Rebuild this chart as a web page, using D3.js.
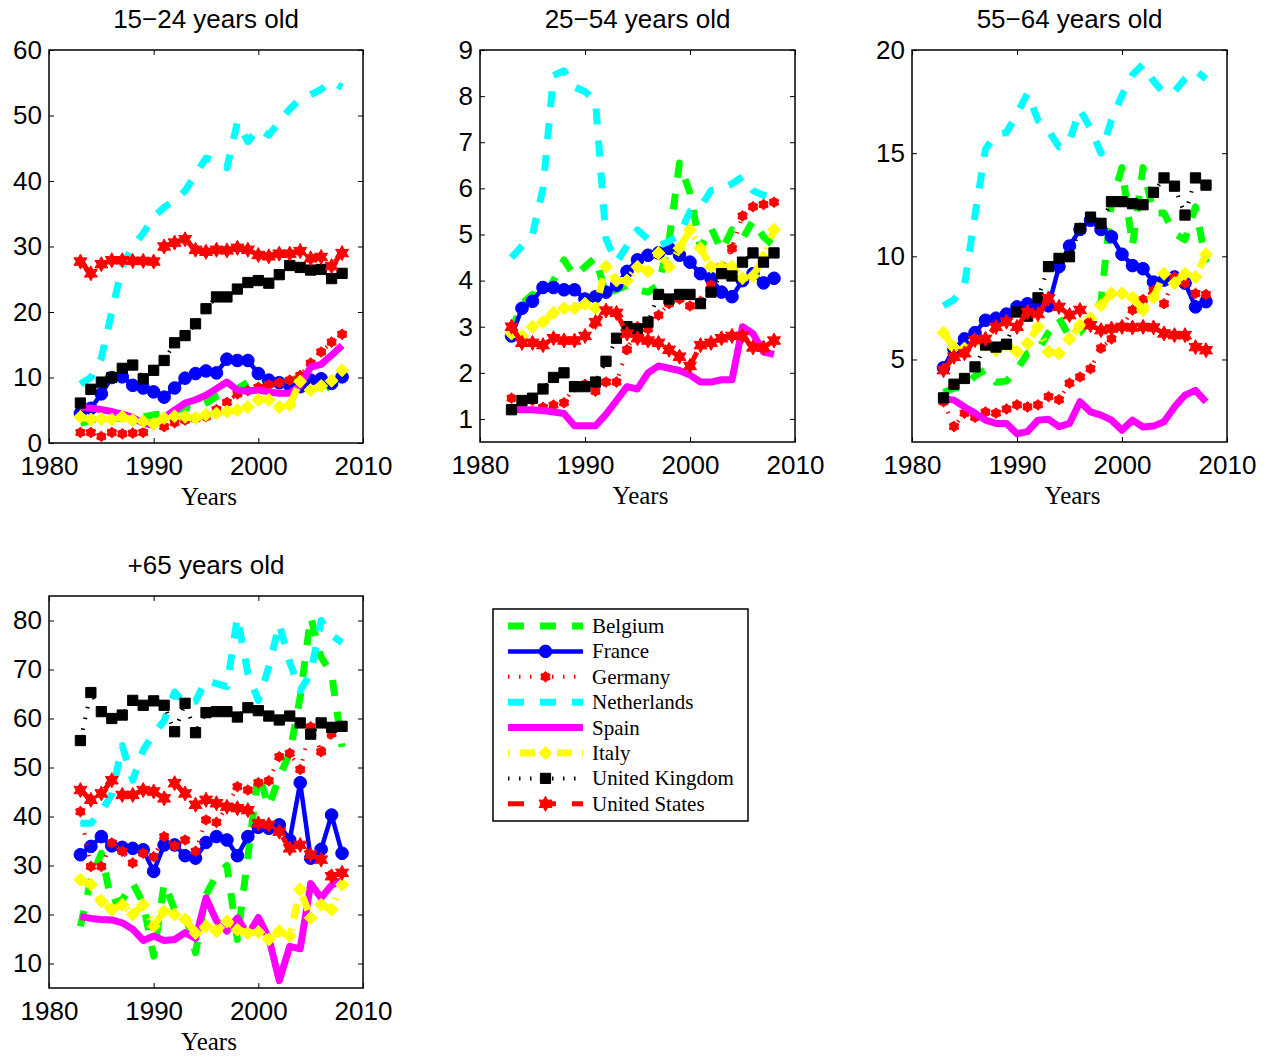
<!DOCTYPE html>
<html>
<head>
<meta charset="utf-8">
<script src="https://cdn.jsdelivr.net/npm/d3@7"></script>
<style>
  body { margin: 0; background: #fff; }
  svg { display: block; }
  .tick text { font-family: "Liberation Sans", Arial, sans-serif; font-size: 26px; fill: #000; }
  .tick line { stroke: #000; stroke-width: 1; }
</style>
</head>
<body>
<svg id="chart" width="1274" height="1059"></svg>
<script>
var years = d3.range(1983, 2009);
var countries = ['Belgium', 'France', 'Germany', 'Netherlands', 'Spain', 'Italy', 'United Kingdom', 'United States'];
var titles = ['15\u221224 years old', '25\u221254 years old', '55\u221264 years old', '+65 years old'];
var xTicks = [1980, 1990, 2000, 2010];

// one row per country, same order as countries
var age15to24 = [
  [3.0,3.5,3.7,3.7,3.8,3.8,4.0,4.3,4.5,4.8,5.5,5.2,6.1,7.1,7.6,8.3,9.3,8.8,9.5,9.6,9.4,10.1,10.8,10.6,8.0,8.6],
  [4.5,5.3,7.5,10.0,10.1,8.8,8.4,7.8,7.0,8.4,9.9,10.6,11.0,10.7,12.8,12.6,12.6,10.6,9.6,9.2,8.8,8.6,9.6,9.8,9.1,10.1],
  [1.6,1.6,1.0,1.6,1.4,1.5,1.6,3.0,2.5,3.1,3.5,3.7,4.0,5.1,6.2,7.5,8.0,8.5,8.9,9.2,9.6,10.3,12.2,13.9,15.4,16.6],
  [9.0,10.0,13.0,20.0,27.0,30.0,32.0,34.5,36.0,37.0,38.5,41.0,43.5,43.0,42.0,49.0,46.0,48.0,47.0,49.0,51.0,52.5,53.2,54.0,55.2,54.3],
  [5.5,5.3,5.1,4.8,4.4,3.9,3.0,2.7,3.9,5.0,6.1,6.6,7.3,8.3,9.3,8.1,7.9,8.1,7.8,7.6,7.6,8.8,11.6,12.0,13.4,14.9],
  [4.0,3.6,3.7,3.6,4.0,3.5,3.3,2.9,3.8,4.1,4.0,3.8,4.3,4.5,4.8,5.0,5.5,6.6,6.6,5.5,5.8,9.4,8.1,8.7,9.5,11.1],
  [6.1,8.2,9.3,10.0,11.4,11.9,9.8,11.1,12.6,15.3,16.4,18.2,20.5,22.3,22.3,23.5,24.5,24.8,24.4,25.7,27.1,26.8,26.4,26.5,25.1,25.9],
  [27.7,25.9,27.3,27.9,27.9,27.8,27.8,27.7,30.0,30.6,31.1,29.5,29.2,29.5,29.4,29.8,29.5,28.7,28.5,28.9,28.9,29.3,28.2,28.4,27.0,29.0]
];

var age25to54 = [
  [2.9,3.5,3.7,3.6,4.0,4.45,4.1,4.3,4.5,3.7,3.8,3.9,3.8,3.75,3.9,4.85,6.55,5.9,4.7,5.15,4.65,5.1,4.9,5.3,4.95,4.75],
  [2.8,3.4,3.55,3.85,3.85,3.8,3.8,3.6,3.65,3.75,3.9,4.2,4.45,4.55,4.6,4.7,4.55,4.4,4.15,4.05,3.75,3.65,4.0,4.15,3.95,4.05],
  [1.45,1.3,1.4,1.25,1.3,1.35,1.7,1.75,1.6,1.8,1.8,2.5,3.0,2.95,3.25,3.5,3.6,3.45,3.55,3.9,4.3,4.7,5.4,5.6,5.65,5.7],
  [4.5,4.75,5.0,6.0,8.45,8.55,8.2,8.1,7.9,4.9,4.4,4.75,5.1,4.9,4.75,4.85,5.0,5.5,5.6,5.95,6.0,6.1,6.25,5.95,5.85,5.8],
  [1.2,1.2,1.2,1.18,1.15,1.12,0.85,0.85,0.85,1.1,1.4,1.7,1.65,2.0,2.15,2.1,2.05,1.95,1.8,1.8,1.85,1.85,3.0,2.85,2.45,2.4],
  [2.85,2.8,3.0,3.1,3.3,3.4,3.4,3.5,3.4,4.3,4.0,4.0,4.3,4.2,4.6,4.3,4.7,5.1,4.7,4.3,4.3,4.3,4.05,4.1,4.5,5.1],
  [1.2,1.4,1.45,1.65,1.9,2.0,1.7,1.7,1.8,2.25,2.75,3.0,2.95,3.1,3.7,3.6,3.7,3.7,3.5,3.75,4.15,4.1,4.4,4.6,4.4,4.6],
  [3.0,2.65,2.65,2.6,2.75,2.7,2.7,2.8,3.1,3.35,3.3,2.85,2.75,2.7,2.65,2.5,2.35,2.15,2.6,2.65,2.75,2.8,2.8,2.55,2.55,2.7]
];

var age55to64 = [
  [3.4,3.6,3.7,4.2,4.5,3.9,3.95,4.5,5.3,5.45,6.3,7.0,6.1,6.3,7.0,7.8,12.6,14.3,10.5,14.3,12.1,12.1,11.1,10.8,12.4,9.7],
  [4.6,5.5,6.0,6.3,6.9,7.0,7.2,7.55,7.7,7.55,7.6,9.5,10.5,11.3,11.75,11.3,10.95,10.1,9.55,9.4,8.75,8.85,9.0,8.7,7.55,7.8],
  [2.95,1.75,2.4,2.2,2.45,2.4,2.6,2.8,2.7,2.8,3.2,3.05,3.85,4.15,4.55,5.55,6.0,6.6,7.4,7.9,8.35,7.7,9.0,8.7,8.2,8.15],
  [7.6,7.9,8.6,12.0,15.2,15.9,16.0,16.9,17.9,16.6,16.1,15.3,15.6,17.1,16.2,15.0,16.6,17.8,18.8,19.3,18.5,17.9,18.0,18.6,19.0,18.6],
  [3.1,3.03,2.7,2.4,2.06,1.9,1.9,1.4,1.5,2.06,2.1,1.75,1.9,2.95,2.46,2.3,2.06,1.57,2.06,1.73,1.77,1.98,2.7,3.27,3.5,2.95],
  [6.3,5.58,5.53,5.94,5.7,5.45,5.7,5.37,5.78,6.58,5.37,5.3,6.0,6.66,6.99,7.63,8.2,8.2,8.0,7.4,8.0,9.15,8.7,9.15,9.0,10.1],
  [3.14,3.8,4.08,4.64,5.7,5.6,5.74,7.3,7.1,7.99,9.5,9.9,9.98,11.35,11.9,11.6,12.65,12.65,12.55,12.5,13.1,13.8,13.4,12.0,13.8,13.45],
  [4.48,5.13,5.3,5.94,6.0,6.58,6.83,6.58,7.3,7.2,7.96,7.55,7.15,7.4,6.66,6.42,6.5,6.58,6.55,6.58,6.55,6.26,6.18,6.18,5.6,5.45]
];

var age65plus = [
  [17.6,27.1,32.5,22.3,23.0,26.4,22.3,11.5,26.4,21.0,20.3,12.2,24.0,28.0,30.0,14.9,31.8,48.8,42.0,48.1,52.9,64.4,80.7,72.5,69.2,54.2],
  [32.2,33.9,35.9,34.0,33.7,33.5,33.2,28.8,34.2,34.2,32.0,31.5,34.7,35.9,35.2,32.0,35.9,37.8,37.6,38.3,35.2,46.9,31.5,33.3,40.3,32.5],
  [41.0,29.8,29.8,34.6,32.9,30.5,32.5,31.8,35.9,34.0,35.2,32.9,39.3,38.8,42.0,46.1,45.4,46.9,47.3,52.2,52.9,49.6,58.3,53.2,56.9,58.4],
  [38.6,38.6,41.0,44.5,54.5,47.4,53.5,57.0,59.5,65.4,63.0,63.5,67.8,67.1,66.5,80.7,69.2,63.7,70.5,79.3,71.5,65.7,69.2,80.0,77.0,75.5],
  [19.6,19.2,19.0,18.9,18.3,17.0,14.7,15.6,14.7,14.9,16.3,15.1,23.4,18.7,16.6,19.3,15.8,19.4,15.2,6.5,13.5,13.0,26.3,23.4,26.0,27.0],
  [27.1,26.1,22.7,21.0,22.0,20.0,22.0,17.6,20.7,20.0,19.0,16.2,17.6,16.6,18.6,16.9,16.2,16.4,14.9,16.6,15.6,25.1,19.3,22.0,21.0,26.1],
  [55.5,65.3,61.4,60.0,60.7,63.7,62.7,63.6,62.7,57.3,63.1,57.1,61.2,61.4,61.4,60.3,62.2,61.6,60.5,59.7,60.5,59.1,56.8,59.1,58.2,58.4],
  [45.4,43.4,44.7,47.4,44.4,44.4,45.4,45.1,43.7,46.8,44.7,42.4,43.4,42.7,42.0,41.7,41.3,38.6,38.3,36.9,33.5,34.2,32.2,31.2,27.8,28.5]
];

var yDomains = [[0, 60], [0.5, 9], [1, 20], [5, 85]];
var yTicks = [d3.range(0, 61, 10), d3.range(1, 10), [5, 10, 15, 20], d3.range(10, 81, 10)];
var allData = [age15to24, age25to54, age55to64, age65plus];

// line styles, matlab-like
var styles = [
  { color: '#00ff00', width: 7,   dash: '16,16',      legendDash: '16,16',     marker: null },
  { color: '#0000ff', width: 4.5, dash: null,         legendDash: null,        marker: 'circle' },
  { color: '#ff0000', width: 4,   dash: '1.5,9.5',    legendDash: '1.5,9.5',   marker: 'blob' },
  { color: '#00ffff', width: 7,   dash: '16,16',      legendDash: '16,16',     marker: null },
  { color: '#ff00ff', width: 7,   dash: null,         legendDash: null,        marker: null },
  { color: '#ffff00', width: 7,   dash: '15,10,2,10', legendDash: '2,10,15,10', marker: 'diamond' },
  { color: '#000000', width: 4,   dash: '1.5,9.5',    legendDash: '1.5,9.5',   marker: 'square' },
  { color: '#ff0000', width: 5,   dash: '16,16',      legendDash: '16,16',     marker: 'hexagram' }
];

var boxes = [
  { x0: 49,  x1: 363,  y0: 50,  y1: 443 },
  { x0: 480, x1: 795,  y0: 50,  y1: 442 },
  { x0: 912, x1: 1227, y0: 50,  y1: 442 },
  { x0: 49,  x1: 363,  y0: 596, y1: 988 }
];

function star(R, r) {
  var pts = [];
  for (var i = 0; i < 12; i++) {
    var a = -Math.PI / 2 + i * Math.PI / 6;
    var rad = i % 2 ? r : R;
    pts.push([(rad * Math.cos(a)).toFixed(2), (rad * Math.sin(a)).toFixed(2)]);
  }
  return 'M' + pts.join('L') + 'Z';
}

var markerPaths = {
  circle: d3.symbol(d3.symbolCircle, 125)(),
  square: d3.symbol(d3.symbolSquare, 105)(),
  diamond: 'M0,-6.5L6.5,0L0,6.5L-6.5,0Z',
  hexagram: star(7.5, 4.2),
  blob: star(5.3, 4.0)
};

var svg = d3.select('#chart');
var defs = svg.append('defs');

function drawMarkers(g, st, pts) {
  if (!st.marker) return;
  g.selectAll('path.mk').data(pts).enter().append('path')
    .attr('class', 'mk')
    .attr('d', markerPaths[st.marker])
    .attr('transform', function(d) { return 'translate(' + d[0] + ',' + d[1] + ')'; })
    .attr('fill', st.color)
    .attr('stroke', st.color)
    .attr('stroke-width', 1);
}

boxes.forEach(function(b, pi) {
  var x = d3.scaleLinear().domain([1980, 2010]).range([b.x0, b.x1]);
  var y = d3.scaleLinear().domain(yDomains[pi]).range([b.y1, b.y0]);
  var panel = svg.append('g');

  defs.append('clipPath').attr('id', 'clip' + pi)
    .append('rect')
    .attr('x', b.x0).attr('y', b.y0)
    .attr('width', b.x1 - b.x0).attr('height', b.y1 - b.y0);

  var plot = panel.append('g').attr('clip-path', 'url(#clip' + pi + ')');

  var line = d3.line()
    .x(function(d, i) { return x(years[i]); })
    .y(function(d) { return y(d); });

  allData[pi].forEach(function(vals, ci) {
    var st = styles[ci];
    var g = plot.append('g');
    g.append('path')
      .attr('d', line(vals))
      .attr('fill', 'none')
      .attr('stroke', st.color)
      .attr('stroke-width', st.width)
      .attr('stroke-dasharray', st.dash)
      .attr('stroke-linejoin', 'round');
    drawMarkers(g, st, vals.map(function(v, i) { return [x(years[i]), y(v)]; }));
  });

  // axes with inward ticks on all sides
  panel.append('g')
    .attr('transform', 'translate(0,' + b.y1 + ')')
    .call(d3.axisBottom(x).tickValues(xTicks).tickFormat(d3.format('d')).tickSize(-5).tickPadding(13.5))
    .call(function(g) { g.select('.domain').remove(); });
  panel.append('g')
    .attr('transform', 'translate(0,' + b.y0 + ')')
    .call(d3.axisTop(x).tickValues(xTicks).tickFormat('').tickSize(-5))
    .call(function(g) { g.select('.domain').remove(); });
  panel.append('g')
    .attr('transform', 'translate(' + b.x0 + ',0)')
    .call(d3.axisLeft(y).tickValues(yTicks[pi]).tickFormat(d3.format('d')).tickSize(-5).tickPadding(7))
    .call(function(g) { g.select('.domain').remove(); });
  panel.append('g')
    .attr('transform', 'translate(' + b.x1 + ',0)')
    .call(d3.axisRight(y).tickValues(yTicks[pi]).tickFormat('').tickSize(-5))
    .call(function(g) { g.select('.domain').remove(); });

  panel.append('rect')
    .attr('x', b.x0).attr('y', b.y0)
    .attr('width', b.x1 - b.x0).attr('height', b.y1 - b.y0)
    .attr('fill', 'none').attr('stroke', '#000').attr('stroke-width', 1.5);

  panel.append('text')
    .attr('x', (b.x0 + b.x1) / 2).attr('y', b.y0 - 22)
    .attr('text-anchor', 'middle')
    .style('font-family', '"Liberation Sans", Arial, sans-serif')
    .style('font-size', '26px')
    .text(titles[pi]);

  panel.append('text')
    .attr('x', (b.x0 + b.x1) / 2 + 3).attr('y', b.y1 + 62)
    .attr('text-anchor', 'middle')
    .style('font-family', '"Liberation Serif", "Times New Roman", serif')
    .style('font-size', '25px')
    .text('Years');
});

// legend
var leg = svg.append('g');
leg.append('rect')
  .attr('x', 493).attr('y', 609).attr('width', 255).attr('height', 212)
  .attr('fill', '#fff').attr('stroke', '#000').attr('stroke-width', 1.5);

countries.forEach(function(name, ci) {
  var st = styles[ci];
  var cy = 626 + ci * 25.4;
  var g = leg.append('g');
  g.append('line')
    .attr('x1', 508).attr('x2', 583).attr('y1', cy).attr('y2', cy)
    .attr('stroke', st.color)
    .attr('stroke-width', st.width)
    .attr('stroke-dasharray', st.legendDash);
  drawMarkers(g, st, [[545.5, cy]]);
  g.append('text')
    .attr('x', 592).attr('y', cy + 7)
    .style('font-family', '"Liberation Serif", "Times New Roman", serif')
    .style('font-size', '21px')
    .text(name);
});
</script>
</body>
</html>
